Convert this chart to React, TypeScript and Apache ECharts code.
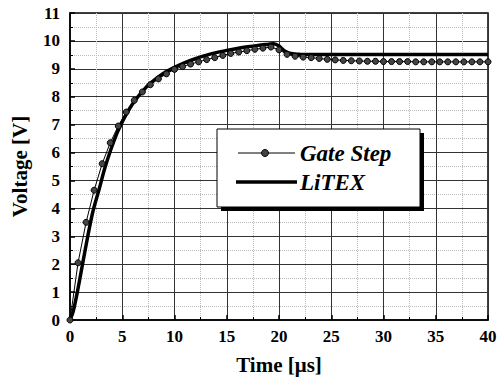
import React, { useEffect, useRef } from "react";
import * as echarts from "echarts";

const gateTimes = [
  0.0, 0.77, 1.54, 2.31, 3.08, 3.85, 4.62, 5.38, 6.15, 6.92, 7.69, 8.46, 9.23, 10.0,
  10.77, 11.54, 12.31, 13.08, 13.85, 14.62, 15.38, 16.15, 16.92, 17.69, 18.46, 19.23,
  20.0, 20.77, 21.54, 22.31, 23.08, 23.85, 24.62, 25.38, 26.15, 26.92, 27.69, 28.46,
  29.23, 30.0, 30.77, 31.54, 32.31, 33.08, 33.85, 34.62, 35.38, 36.15, 36.92, 37.69,
  38.46, 39.23, 40.0,
];
const gateValues = [
  0.0, 2.05, 3.5, 4.65, 5.6, 6.35, 6.95, 7.45, 7.87, 8.17, 8.43, 8.64, 8.82, 8.98,
  9.08, 9.17, 9.25, 9.33, 9.4, 9.48, 9.55, 9.6, 9.65, 9.7, 9.74, 9.78,
  9.68, 9.52, 9.45, 9.42, 9.4, 9.37, 9.34, 9.32, 9.3, 9.29, 9.28, 9.27,
  9.27, 9.26, 9.26, 9.26, 9.26, 9.25, 9.25, 9.25, 9.25, 9.25, 9.25, 9.25,
  9.25, 9.25, 9.25,
];

const litexTimes = [
  0, 0.3, 0.7, 1.2, 1.7, 2.2, 2.8, 3.3, 3.9, 4.5, 5, 5.5, 6, 6.5, 7, 7.5, 8, 9, 10,
  11, 12, 13, 14, 15, 16, 17, 18, 19, 19.5, 20, 20.5, 21, 21.5, 22, 25, 30, 35, 40,
];
const litexValues = [
  0, 0.3, 1.0, 2.0, 3.0, 3.9, 4.7, 5.4, 6.1, 6.7, 7.1, 7.45, 7.75, 8.0, 8.22, 8.42,
  8.58, 8.85, 9.05, 9.22, 9.36, 9.48, 9.58, 9.66, 9.73, 9.79, 9.84, 9.88, 9.9, 9.82,
  9.65, 9.56, 9.53, 9.52, 9.51, 9.51, 9.51, 9.51,
];

const xTicks = [0, 5, 10, 15, 20, 25, 30, 35, 40];
const yTicks = [0, 1, 2, 3, 4, 5, 6, 7, 8, 9, 10, 11];

const FONT = '"Liberation Serif", "Times New Roman", serif';

export default function App() {
  const ref = useRef<HTMLDivElement>(null);
  useEffect(() => {
    document.body.style.margin = "0";
    if (!ref.current) return;
    const chart = echarts.init(ref.current, null, { renderer: "svg" });
    const axisLabel = {
      color: "#000",
      fontFamily: FONT,
      fontWeight: "bold" as const,
      fontSize: 17,
    };
    chart.setOption({
      animation: false,
      backgroundColor: "#fff",
      grid: {
        left: 70,
        right: 16,
        top: 13,
        bottom: 58,
        show: true,
        borderColor: "#000",
        borderWidth: 1.5,
        backgroundColor: "transparent",
      },
      xAxis: {
        type: "value",
        min: 0,
        max: 40,
        interval: 5,
        name: "Time [\u03bcs]",
        nameLocation: "middle",
        nameGap: 34,
        nameTextStyle: { color: "#000", fontFamily: FONT, fontWeight: "bold", fontSize: 21 },
        axisLine: { show: true, lineStyle: { color: "#000", width: 1.5 } },
        axisTick: { show: true, inside: true, length: 5, lineStyle: { color: "#000", width: 1.5 } },
        minorTick: { show: true, splitNumber: 2, length: 3, lineStyle: { color: "#000" } },
        axisLabel: { ...axisLabel, margin: 8, formatter: (v: number) => (xTicks.includes(v) ? String(v) : "") },
        splitLine: { show: true, lineStyle: { color: "#333", width: 1 } },
        minorSplitLine: { show: true, lineStyle: { color: "#bbb", width: 1, type: "dotted" } },
      },
      yAxis: {
        type: "value",
        min: 0,
        max: 11,
        interval: 1,
        name: "Voltage [V]",
        nameLocation: "middle",
        nameGap: 40,
        nameTextStyle: { color: "#000", fontFamily: FONT, fontWeight: "bold", fontSize: 21 },
        axisLine: { show: true, lineStyle: { color: "#000", width: 1.5 } },
        axisTick: { show: true, inside: true, length: 5, lineStyle: { color: "#000", width: 1.5 } },
        minorTick: { show: true, splitNumber: 2, length: 3, lineStyle: { color: "#000" } },
        axisLabel: { ...axisLabel, margin: 10, formatter: (v: number) => (yTicks.includes(v) ? String(v) : "") },
        splitLine: { show: true, lineStyle: { color: "#333", width: 1 } },
        minorSplitLine: { show: true, lineStyle: { color: "#bbb", width: 1, type: "dotted" } },
      },
      series: [
        {
          name: "LiTEX",
          type: "line",
          data: litexTimes.map((t, i) => [t, litexValues[i]]),
          showSymbol: false,
          smooth: 0.3,
          lineStyle: { color: "#000", width: 3.5 },
          z: 3,
        },
        {
          name: "Gate Step",
          type: "line",
          data: gateTimes.map((t, i) => [t, gateValues[i]]),
          symbol: "circle",
          symbolSize: 6,
          itemStyle: { color: "#444", borderColor: "#000", borderWidth: 1 },
          lineStyle: { color: "#000", width: 1 },
          z: 4,
        },
      ],
      graphic: [
        { type: "rect", shape: { x: 221, y: 133, width: 203, height: 78 }, style: { fill: "#000" }, z: 10 },
        { type: "rect", shape: { x: 217, y: 129, width: 203, height: 78 }, style: { fill: "#fff", stroke: "#000", lineWidth: 1 }, z: 11 },
        { type: "line", shape: { x1: 238, y1: 153, x2: 295, y2: 153 }, style: { stroke: "#000", lineWidth: 1 }, z: 12 },
        { type: "circle", shape: { cx: 265, cy: 153, r: 3.5 }, style: { fill: "#444", stroke: "#000", lineWidth: 1 }, z: 13 },
        { type: "line", shape: { x1: 236, y1: 182, x2: 297, y2: 182 }, style: { stroke: "#000", lineWidth: 3.5 }, z: 12 },
        {
          type: "text",
          x: 300,
          y: 153,
          style: { text: "Gate Step", fill: "#000", font: `italic bold 23px ${FONT}`, textVerticalAlign: "middle" },
          z: 13,
        },
        {
          type: "text",
          x: 300,
          y: 182,
          style: { text: "LiTEX", fill: "#000", font: `italic bold 23px ${FONT}`, textVerticalAlign: "middle" },
          z: 13,
        },
      ],
    });
    return () => chart.dispose();
  }, []);
  return <div ref={ref} style={{ width: 504, height: 380 }} />;
}
